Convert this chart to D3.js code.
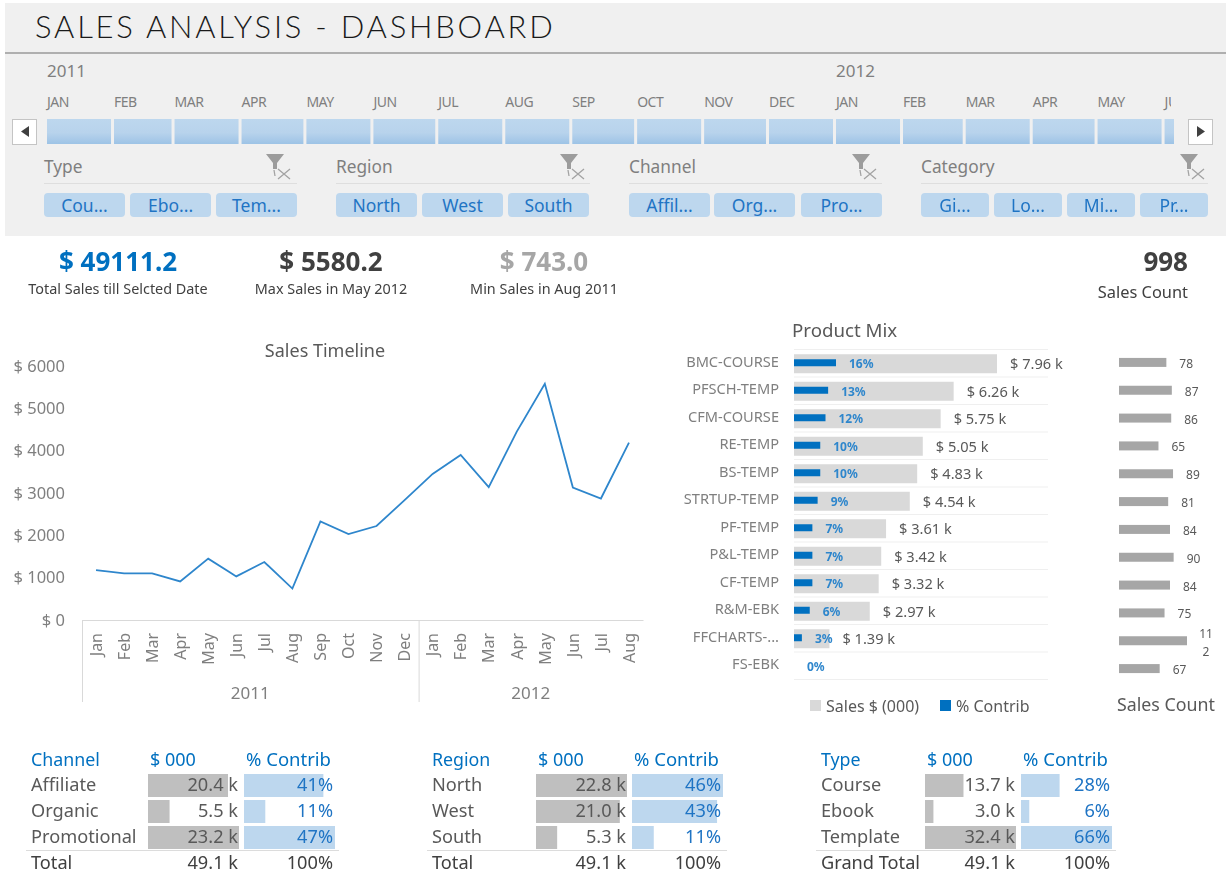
<!DOCTYPE html>
<html>
<head>
<meta charset="utf-8">
<script src="https://cdn.jsdelivr.net/npm/d3@7"></script>
<style>
  html, body { margin: 0; padding: 0; background: #fff; overflow: hidden; }
  svg { display: block; filter: blur(0.35px); }
  text { font-family: "Noto Sans", "Open Sans", sans-serif; fill: #595959; }
</style>
</head>
<body>
<svg id="chart" width="1226" height="874"></svg>
<script>
// ---- data ----
const timelineMonths = ["Jan","Feb","Mar","Apr","May","Jun","Jul","Aug","Sep","Oct","Nov","Dec","Jan","Feb","Mar","Apr","May","Jun","Jul","Aug"];
const timelineYears = ["2011","2012"];
const timelineSales = [1180,1100,1100,910,1450,1030,1370,743,2330,2030,2220,2830,3450,3900,3140,4450,5580,3130,2870,4190];
const salesTicks = [0,1000,2000,3000,4000,5000,6000];

const productNames = ["BMC-COURSE","PFSCH-TEMP","CFM-COURSE","RE-TEMP","BS-TEMP","STRTUP-TEMP","PF-TEMP","P&L-TEMP","CF-TEMP","R&M-EBK","FFCHARTS-...","FS-EBK"];
const productSales = [7.96,6.26,5.75,5.05,4.83,4.54,3.61,3.42,3.32,2.97,1.39,0];
const productContrib = [16,13,12,10,10,9,7,7,7,6,3,0];
const productCounts = [78,87,86,65,89,81,84,90,84,75,112,67];

const channelNames = ["Affiliate","Organic","Promotional"];
const channelSales = [20.4,5.5,23.2];
const channelContrib = [41,11,47];
const regionNames = ["North","West","South"];
const regionSales = [22.8,21.0,5.3];
const regionContrib = [46,43,11];
const typeNames = ["Course","Ebook","Template"];
const typeSales = [13.7,3.0,32.4];
const typeContrib = [28,6,66];

const slicerTitles = ["Type","Region","Channel","Category"];
const slicerButtons = [
  ["Cou...","Ebo...","Tem..."],
  ["North","West","South"],
  ["Affil...","Org...","Pro..."],
  ["Gi...","Lo...","Mi...","Pr..."]
];

const blue = "#0070c0";
const svg = d3.select("#chart");

// 顶部面板
svg.append("rect").attr("x", 5).attr("y", 3).attr("width", 1221).attr("height", 233).attr("fill", "#f0f0f0");
svg.append("text").attr("x", 35).attr("y", 38)
  .style("font-family", "Lato, sans-serif").style("font-weight", 300)
  .style("font-size", "31px").style("letter-spacing", "2.78px").style("fill", "#1a1a1a")
  .text("SALES ANALYSIS - DASHBOARD");
svg.append("line").attr("x1", 5).attr("x2", 1226).attr("y1", 53).attr("y2", 53)
  .attr("stroke", "#9a9a9a").attr("stroke-width", 1.5);

// 时间轴切片器
const defs = svg.append("defs");
const grad = defs.append("linearGradient").attr("id", "cellFill").attr("x1", 0).attr("x2", 0).attr("y1", 0).attr("y2", 1);
grad.append("stop").attr("offset", "0%").attr("stop-color", "#bdd7ee");
grad.append("stop").attr("offset", "55%").attr("stop-color", "#b8d3ec");
grad.append("stop").attr("offset", "100%").attr("stop-color", "#9dc3e6");
defs.append("clipPath").attr("id", "cellClip").append("rect")
  .attr("x", 47).attr("y", 112).attr("width", 1127).attr("height", 40);
defs.append("clipPath").attr("id", "labelClip").append("rect")
  .attr("x", 40).attr("y", 90).attr("width", 1131).attr("height", 22);

const sliderTime = d3.scaleUtc()
  .domain([new Date(Date.UTC(2011, 0, 1)), new Date(Date.UTC(2012, 0, 1))])
  .range([47, 836]);
const sliderMonths = d3.utcMonths(new Date(Date.UTC(2011, 0, 1)), new Date(Date.UTC(2012, 6, 1)));
svg.append("g").attr("clip-path", "url(#cellClip)")
  .selectAll("rect").data(sliderMonths).enter().append("rect")
  .attr("x", d => sliderTime(d))
  .attr("y", 119)
  .attr("width", d => sliderTime(d3.utcMonth.offset(d, 1)) - sliderTime(d) - 3)
  .attr("height", 25)
  .attr("fill", "url(#cellFill)");
svg.append("g").attr("clip-path", "url(#labelClip)")
  .selectAll("text").data(sliderMonths).enter().append("text")
  .attr("x", d => sliderTime(d))
  .attr("y", 107)
  .style("font-size", "14px").style("letter-spacing", "-0.5px").style("fill", "#7f7f7f")
  .text(d => d3.utcFormat("%b")(d).toUpperCase());
svg.selectAll("text.slider-year").data(timelineYears).enter().append("text")
  .attr("class", "slider-year")
  .attr("x", d => sliderTime(new Date(Date.UTC(+d, 0, 1))))
  .attr("y", 77)
  .style("font-size", "17px").style("fill", "#7f7f7f")
  .text(d => d);

[[12, "M29 126 L21 131.5 L29 137 Z"], [1188, "M1197 126 L1205 131.5 L1197 137 Z"]].forEach(b => {
  svg.append("rect").attr("x", b[0] + .5).attr("y", 119.5).attr("width", 24).attr("height", 25)
    .attr("fill", "#fff").attr("stroke", "#c4c4c4");
  svg.append("path").attr("d", b[1]).attr("fill", "#404040");
});

// 四个切片器
const slicerX = [44, 336, 629, 921];
const slicerW = [253, 254, 253, 287];
const buttonX = [[44,130,216],[336,422,508],[629,714,801],[921,994,1067,1140]];
const buttonW = [81, 81, 81, 68];
slicerTitles.forEach((title, i) => {
  const g = svg.append("g");
  g.append("text").attr("x", slicerX[i]).attr("y", 173)
    .style("font-size", "17.3px").style("fill", "#7f7f7f").text(title);
  g.append("line").attr("x1", slicerX[i]).attr("x2", slicerX[i] + slicerW[i]).attr("y1", 183.5).attr("y2", 183.5)
    .attr("stroke", "#dedede");
  const ix = [266, 560, 852, 1180][i];
  const icon = g.append("g").attr("transform", `translate(${ix},154)`);
  icon.append("path").attr("d", "M0 0 H18 L11 9 V15 H7 V9 Z").attr("fill", "#9c9c9c");
  icon.append("path").attr("d", "M8 16 L9 22 M12 15 L24 25 M24 15 L12 25").attr("stroke", "#a3a3a3").attr("stroke-width", 1.3).attr("fill", "none");
  slicerButtons[i].forEach((label, j) => {
    g.append("rect").attr("x", buttonX[i][j]).attr("y", 193).attr("width", buttonW[i]).attr("height", 24)
      .attr("rx", 4).attr("fill", "#bdd7ee");
    g.append("text").attr("x", buttonX[i][j] + buttonW[i] / 2).attr("y", 212)
      .attr("text-anchor", "middle").style("font-size", "17.5px").style("fill", "#1f74c4").text(label);
  });
});

// 指标
function kpi(x, value, color, caption, anchor) {
  svg.append("text").attr("x", x).attr("y", 271).attr("text-anchor", anchor || "middle")
    .style("font-size", "26px").style("font-weight", 700).style("fill", color).text(value);
  svg.append("text").attr("x", x).attr("y", anchor ? 298 : 294).attr("text-anchor", anchor || "middle")
    .style("font-size", anchor ? "16.4px" : "14.4px").style("fill", "#404040").text(caption);
}
kpi(118, "$ 49111.2", blue, "Total Sales till Selcted Date");
kpi(331, "$ 5580.2", "#404040", "Max Sales in May 2012");
kpi(544, "$ 743.0", "#a6a6a6", "Min Sales in Aug 2011");
kpi(1188, "998", "#404040", "Sales Count", "end");

// 折线图
const x = d3.scaleBand().domain(d3.range(timelineMonths.length)).range([82, 643]);
const y = d3.scaleLinear().domain([0, 6000]).range([620, 366]);

svg.append("text").attr("x", 325).attr("y", 357).attr("text-anchor", "middle")
  .style("font-size", "18px").text("Sales Timeline");

const yAxis = svg.append("g").attr("transform", "translate(68,0)")
  .call(d3.axisLeft(y).tickValues(salesTicks).tickSize(0).tickFormat(d => "$ " + d));
yAxis.select(".domain").remove();
yAxis.selectAll("text").style("font-size", "16.5px").style("fill", "#7f7f7f").style("font-family", '"Noto Sans", sans-serif');

const xAxis = svg.append("g").attr("transform", "translate(0,620)")
  .call(d3.axisBottom(x).tickSize(0).tickFormat(i => timelineMonths[i]));
xAxis.select(".domain").attr("stroke", "#d9d9d9");
xAxis.selectAll("text")
  .attr("transform", "rotate(-90)")
  .attr("text-anchor", "end")
  .attr("x", -13).attr("y", 0).attr("dy", "0.36em")
  .style("font-size", "16px").style("fill", "#7f7f7f").style("font-family", '"Noto Sans", sans-serif');

const yearEdges = [0, 12, 20];
yearEdges.slice(0, 2).forEach(i => {
  svg.append("line").attr("x1", x(i) + .5).attr("x2", x(i) + .5).attr("y1", 620).attr("y2", 702).attr("stroke", "#d9d9d9");
});
timelineYears.forEach((yr, i) => {
  const mid = (x(yearEdges[i]) + (yearEdges[i + 1] < 20 ? x(yearEdges[i + 1]) : 643)) / 2;
  svg.append("text").attr("x", mid).attr("y", 699).attr("text-anchor", "middle")
    .style("font-size", "17px").style("fill", "#7f7f7f").text(yr);
});

svg.append("path").datum(timelineSales)
  .attr("fill", "none").attr("stroke", "#2e86cc").attr("stroke-width", 1.8)
  .attr("d", d3.line().x((d, i) => x(i) + x.bandwidth() / 2).y(d => y(d)));

// 产品组合
svg.append("text").attr("x", 792).attr("y", 337).style("font-size", "18.7px").text("Product Mix");

const rowY = d3.scaleBand().domain(d3.range(productNames.length)).range([349.5, 679.5]);
const salesX = d3.scaleLinear().domain([0, 7.96]).range([794, 997]);
const contribX = d3.scaleLinear().domain([0, 16]).range([794, 836]);
const rowMid = i => rowY(i) + rowY.bandwidth() / 2;

svg.selectAll("line.mix-grid").data(d3.range(productNames.length + 1)).enter().append("line")
  .attr("class", "mix-grid")
  .attr("x1", 794).attr("x2", 1048)
  .attr("y1", i => 349.5 + i * rowY.step()).attr("y2", i => 349.5 + i * rowY.step())
  .attr("stroke", "#efefef");

productNames.forEach((name, i) => {
  const m = rowMid(i);
  svg.append("text").attr("x", 779).attr("y", m + 3.5).attr("text-anchor", "end")
    .style("font-size", "14.6px").style("fill", "#7f7f7f").text(name);
  svg.append("rect").attr("x", salesX(0)).attr("y", m - 9).attr("width", salesX(productSales[i]) - salesX(0)).attr("height", 19)
    .attr("fill", "#d9d9d9");
  svg.append("rect").attr("x", contribX(0)).attr("y", m - 4).attr("width", contribX(productContrib[i]) - contribX(0)).attr("height", 7)
    .attr("fill", blue);
  svg.append("text").attr("x", contribX(productContrib[i]) + 13).attr("y", m + 5)
    .style("font-size", "12px").style("font-weight", 700).style("fill", "#2e86cc").text(productContrib[i] + "%");
  if (productSales[i] > 0) {
    svg.append("text").attr("x", salesX(productSales[i]) + 13).attr("y", m + 6)
      .style("font-size", "14.6px").text("$ " + d3.format(".2f")(productSales[i]) + " k");
  }
});

// 图例
svg.append("rect").attr("x", 810).attr("y", 700).attr("width", 11).attr("height", 11).attr("fill", "#d9d9d9");
svg.append("text").attr("x", 826).attr("y", 712).style("font-size", "16px").text("Sales $ (000)");
svg.append("rect").attr("x", 940).attr("y", 700).attr("width", 11).attr("height", 11).attr("fill", blue);
svg.append("text").attr("x", 956).attr("y", 712).style("font-size", "16px").text("% Contrib");

// 销售数量条
const countX = d3.scaleLinear().domain([0, 112]).range([1119, 1187]);
const countY = d3.scaleBand().domain(d3.range(productCounts.length)).range([349, 683]);
productCounts.forEach((c, i) => {
  const m = countY(i) + countY.bandwidth() / 2;
  svg.append("rect").attr("x", countX(0)).attr("y", m - 5).attr("width", countX(c) - countX(0)).attr("height", 9).attr("fill", "#a6a6a6");
  if (c < 100) {
    svg.append("text").attr("x", countX(c) + 13).attr("y", m + 5).style("font-size", "12px").text(c);
  } else {
    // 三位数在原图里折成两行
    svg.append("text").attr("x", 1206).attr("y", m - 3).attr("text-anchor", "middle").style("font-size", "12px").text(String(c).slice(0, 2));
    svg.append("text").attr("x", 1206).attr("y", m + 15).attr("text-anchor", "middle").style("font-size", "12px").text(String(c).slice(2));
  }
});
svg.append("text").attr("x", 1117).attr("y", 711).style("font-size", "17.8px").text("Sales Count");

// 底部三张表
function table(o) {
  const g = svg.append("g");
  const w = 91;
  const sx = d3.scaleLinear().domain([0, d3.max(o.sales)]).range([0, w]);
  const px = d3.scaleLinear().domain([0, d3.max(o.contrib)]).range([0, w]);
  const rows = d3.scaleBand().domain(d3.range(o.names.length)).range([772, 850]);
  const head = (xx, t, fs) => g.append("text").attr("x", xx).attr("y", 766).style("font-size", fs + "px").style("fill", blue).text(t);
  head(o.labelX, o.title, 17.8);
  head(o.salesX + 2, "$ 000", 18);
  head(o.pctX + 2, "% Contrib", 18.5);
  o.names.forEach((name, i) => {
    const top = rows(i);
    const base = top + 19;
    g.append("rect").attr("x", o.salesX).attr("y", top + 2).attr("width", sx(o.sales[i])).attr("height", 23).attr("fill", "#bfbfbf");
    g.append("rect").attr("x", o.pctX).attr("y", top + 2).attr("width", px(o.contrib[i])).attr("height", 23).attr("fill", "#bdd7ee");
    g.append("text").attr("x", o.labelX).attr("y", base).style("font-size", "18.2px").text(name);
    g.append("text").attr("x", o.salesX + w - 1).attr("y", base).attr("text-anchor", "end").style("font-size", "18.2px")
      .text(d3.format(".1f")(o.sales[i]) + " k");
    g.append("text").attr("x", o.pctX + w - 2).attr("y", base).attr("text-anchor", "end").style("font-size", "18.2px").style("fill", "#1f74c4")
      .text(o.contrib[i] + "%");
  });
  g.append("line").attr("x1", o.labelX - 5).attr("x2", o.pctX + w + 4).attr("y1", 850.5).attr("y2", 850.5).attr("stroke", "#dcdcdc");
  g.append("text").attr("x", o.labelX).attr("y", 869).style("font-size", "18.2px").style("fill", "#404040").text(o.total);
  g.append("text").attr("x", o.salesX + w - 1).attr("y", 869).attr("text-anchor", "end").style("font-size", "18.2px").style("fill", "#404040").text("49.1 k");
  g.append("text").attr("x", o.pctX + w - 2).attr("y", 869).attr("text-anchor", "end").style("font-size", "18.2px").style("fill", "#404040").text("100%");
}
table({ title: "Channel", names: channelNames, sales: channelSales, contrib: channelContrib, total: "Total", labelX: 31, salesX: 148, pctX: 244 });
table({ title: "Region", names: regionNames, sales: regionSales, contrib: regionContrib, total: "Total", labelX: 432, salesX: 536, pctX: 632 });
table({ title: "Type", names: typeNames, sales: typeSales, contrib: typeContrib, total: "Grand Total", labelX: 821, salesX: 925, pctX: 1021 });
</script>
</body>
</html>
